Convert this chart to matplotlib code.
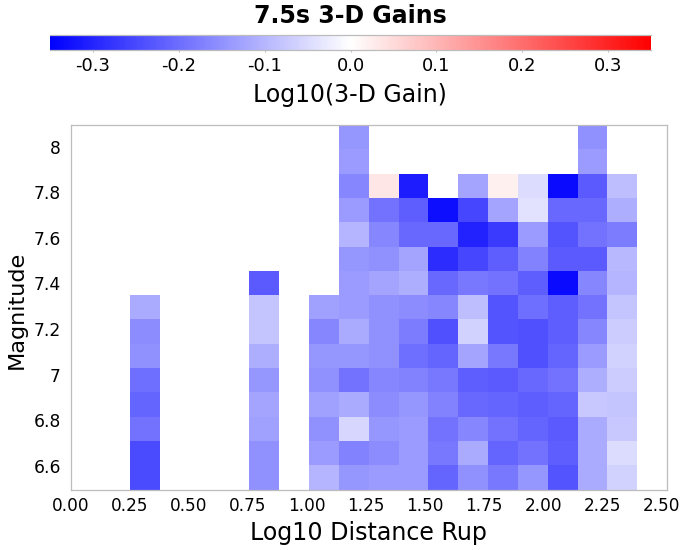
import numpy as np
import matplotlib
matplotlib.use("Agg")
import matplotlib.pyplot as plt
from matplotlib.colors import LinearSegmentedColormap
from matplotlib.transforms import ScaledTranslation

title = "7.5s 3-D Gains"
cbar_label = "Log10(3-D Gain)"
xlabel = "Log10 Distance Rup"
ylabel = "Magnitude"
x_edges = [0.125 * i for i in range(21)]
y_edges = [6.5 + 1.6 * i / 15 for i in range(16)]
x_ticks = [0, 0.25, 0.5, 0.75, 1.0, 1.25, 1.5, 1.75, 2.0, 2.25, 2.5]
x_tick_labels = ["0.00", "0.25", "0.50", "0.75", "1.00", "1.25", "1.50", "1.75", "2.00", "2.25", "2.50"]
y_ticks = [6.6, 6.8, 7.0, 7.2, 7.4, 7.6, 7.8, 8.0]
y_tick_labels = ["6.6", "6.8", "7", "7.2", "7.4", "7.6", "7.8", "8"]
cbar_ticks = [-0.3, -0.2, -0.1, 0.0, 0.1, 0.2, 0.3]
n = np.nan

# Each row lists columns 0..19, bottom row first
row00 = [n, n, -.247, n, n, n, -.151, n, -.103, -.144, -.137, -.137, -.213, -.151, -.185, -.144, -.233, -.117, -.062, n]
row01 = [n, n, -.247, n, n, n, -.151, n, -.137, -.172, -.158, -.137, -.185, -.117, -.213, -.192, -.220, -.117, -.048, n]
row02 = [n, n, -.192, n, n, n, -.130, n, -.151, -.055, -.144, -.137, -.192, -.165, -.192, -.213, -.226, -.117, -.075, n]
row03 = [n, n, -.213, n, n, n, -.124, n, -.130, -.117, -.158, -.144, -.172, -.206, -.213, -.220, -.213, -.075, -.082, n]
row04 = [n, n, -.199, n, n, n, -.144, n, -.151, -.192, -.165, -.172, -.185, -.220, -.226, -.206, -.192, -.110, -.069, n]
row05 = [n, n, -.151, n, n, n, -.110, n, -.144, -.144, -.151, -.199, -.213, -.124, -.185, -.240, -.213, -.137, -.062, n]
row06 = [n, n, -.158, n, n, n, -.082, n, -.165, -.117, -.151, -.178, -.240, -.062, -.233, -.240, -.220, -.165, -.069, n]
row07 = [n, n, -.117, n, n, n, -.082, n, -.130, -.137, -.151, -.158, -.165, -.089, -.233, -.199, -.220, -.192, -.082, n]
row08 = [n, n, n, n, n, n, -.226, n, n, -.137, -.124, -.110, -.206, -.185, -.192, -.220, -.336, -.165, -.103, n]
row09 = [n, n, n, n, n, n, n, n, n, -.144, -.151, -.124, -.288, -.254, -.220, -.172, -.226, -.226, -.096, n]
row10 = [n, n, n, n, n, n, n, n, n, -.103, -.165, -.206, -.206, -.302, -.268, -.137, -.233, -.192, -.178, n]
row11 = [n, n, n, n, n, n, n, n, n, -.137, -.192, -.220, -.329, -.254, -.124, -.041, -.206, -.206, -.110, n]
row12 = [n, n, n, n, n, n, n, n, n, -.165, .034, -.309, n, -.124, .020, -.048, -.336, -.226, -.089, n]
row13 = [n, n, n, n, n, n, n, n, n, -.137, n, n, n, n, n, n, n, -.137, n, n]
row14 = [n, n, n, n, n, n, n, n, n, -.144, n, n, n, n, n, n, n, -.151, n, n]

rows = [row00, row01, row02, row03, row04, row05, row06, row07, row08, row09, row10, row11, row12, row13, row14]

W, H = 700, 550
grey = "#bcbcbc"
plt.rcParams["font.family"] = "DejaVu Sans"
fig = plt.figure(figsize=(W / 100, H / 100), dpi=100)
cmap = LinearSegmentedColormap.from_list("bwr2", ["#0000ff", "#ffffff", "#ff0000"], N=256)
cmap.set_bad("white")

ax = fig.add_axes([70.5 / W, 1 - 489.5 / H, 596.5 / W, 364.5 / H])
data = np.ma.masked_invalid(np.array(rows))
mesh = ax.pcolormesh(x_edges, y_edges, data, cmap=cmap, vmin=-0.35, vmax=0.35, linewidth=0)
ax.set_xlim(0, 2.5)
ax.set_ylim(6.5, 8.1)
ax.set_xticks(x_ticks)
ax.set_xticklabels(x_tick_labels)
ax.set_yticks(y_ticks)
ax.set_yticklabels(y_tick_labels)
ax.tick_params(axis="x", length=0, labelsize=12.2, pad=5.5)
ax.tick_params(axis="y", length=0, labelsize=12.3, pad=7)
for s in ax.spines.values():
    s.set_color(grey)
    s.set_linewidth(0.9)
for i, lab in enumerate(ax.get_xticklabels()):
    lab.set_transform(lab.get_transform() + ScaledTranslation(-0.55 * i / 100, 0, fig.dpi_scale_trans))
for lab in ax.get_yticklabels():
    lab.set_transform(lab.get_transform() + ScaledTranslation(0, 1 / 100, fig.dpi_scale_trans))
fig.text(368.5 / W, 1 - 533 / H, xlabel, fontsize=17.1, ha="center", va="center")
fig.text(17 / W, 1 - 309.5 / H, ylabel, fontsize=16.1, ha="center", va="center", rotation=90)

cax = fig.add_axes([50 / W, 1 - 50 / H, 601 / W, 15.5 / H])
cb = fig.colorbar(mesh, cax=cax, orientation="horizontal")
cb.set_ticks(cbar_ticks)
cb.set_ticklabels(["-0.3", "-0.2", "-0.1", "0.0", "0.1", "0.2", "0.3"])
cb.ax.tick_params(length=1.5, color=grey, labelsize=13, pad=3.5, width=0.8)
cb.outline.set_visible(False)
for side in ("top", "bottom"):
    cax.spines[side].set_visible(True)
    cax.spines[side].set_color(grey)
    cax.spines[side].set_linewidth(0.9)
fig.text(350 / W, 1 - 95 / H, cbar_label, fontsize=17, ha="center", va="center")
fig.text(350 / W, 1 - 16 / H, title, fontsize=17, fontweight="bold", ha="center", va="center")
fig.savefig("out.png", dpi=100)
